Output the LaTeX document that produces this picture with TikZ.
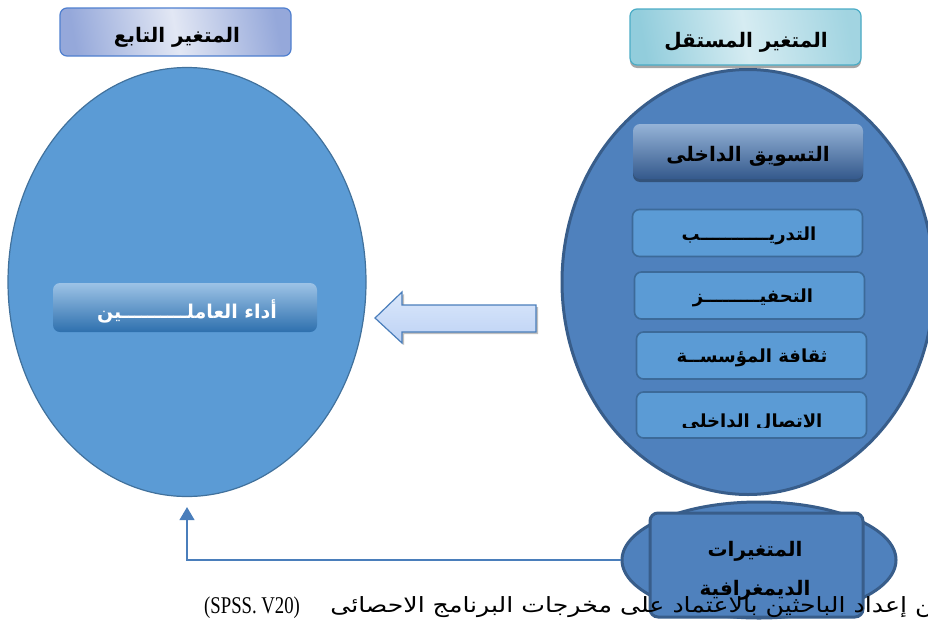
\documentclass[tikz,border=0pt]{standalone}
\usepackage{fontspec}
\setmainfont{Liberation Serif}
\newfontfamily\arabicfont[Script=Arabic]{DejaVu Sans}
\newfontfamily\capfont[Script=Arabic,FakeStretch=1.2]{DejaVu Sans}
\newfontfamily\latcap[FakeStretch=0.78]{Liberation Serif}
\TeXXeTstate=1
\usetikzlibrary{shapes.geometric,shadows,arrows.meta,calc}
\definecolor{ellL}{HTML}{5B9BD5}
\definecolor{ellLb}{HTML}{41719C}
\definecolor{ellR}{HTML}{4F81BD}
\definecolor{ellRb}{HTML}{385D8A}
\definecolor{boxF}{HTML}{5B9BD5}
\definecolor{boxB}{HTML}{3C6A99}
\definecolor{lavA}{HTML}{95A8DA}
\definecolor{lavB}{HTML}{E2E7F4}
\definecolor{lavE}{HTML}{4F7FCF}
\definecolor{tealA}{HTML}{92CDDC}
\definecolor{tealB}{HTML}{D6ECF2}
\definecolor{tealE}{HTML}{4BACC6}
\definecolor{hdrT}{HTML}{95B3D7}
\definecolor{hdrB}{HTML}{34598C}
\definecolor{perT}{HTML}{9DC3E6}
\definecolor{perB}{HTML}{2E70AE}
\definecolor{arrT}{HTML}{DAE7FB}
\definecolor{arrB}{HTML}{BDD2F4}
\definecolor{arrE}{HTML}{4A7EBB}
\tikzset{
  artext/.style={font=\arabicfont\bfseries\fontsize{19}{22}\selectfont, text=black, align=center, inner sep=0pt},
  smalltext/.style={artext, font=\arabicfont\bfseries\fontsize{18}{21}\selectfont},
  titlebox/.style={rounded corners=7pt, line width=1.2pt, inner sep=0pt},
  innerbox/.style={rounded corners=7pt, draw=boxB, fill=boxF, line width=1.6pt, inner sep=0pt,
     minimum width=230pt, minimum height=47pt},
  bigell/.style={ellipse, inner sep=0pt},
  conn/.style={draw=arrE, line width=1.3pt},
  softshadow/.style={drop shadow={shadow xshift=0pt, shadow yshift=-3pt, opacity=0.35, fill=black}},
}
\begin{document}
\begin{tikzpicture}[x=1pt, y=-1pt]
\useasboundingbox (0,0) rectangle (928,624);
% dependent variable ellipse
\node[bigell, fill=ellL, draw=ellLb, line width=1.2pt, minimum width=358pt, minimum height=429pt] (depE) at (187,282) {};
% independent variable ellipse
\node[bigell, fill=ellR, draw=ellRb, line width=3pt, minimum width=372pt, minimum height=425pt] (indE) at (748,282) {};
% titles
\node[titlebox, draw=lavE, left color=lavA, right color=lavA, middle color=lavB, shading angle=100,
      minimum width=231pt, minimum height=48pt] (tdep) at (175.5,32) {};
\node[artext, font=\arabicfont\bfseries\fontsize{20}{23}\selectfont] (tdepT) at (177,37) {\beginR المتغير التابع\endR};
\node[titlebox, draw=tealE, left color=tealA, right color=tealA!85, middle color=tealB, shading angle=100, softshadow,
      minimum width=231pt, minimum height=56pt] (tind) at (745.5,37) {};
\node[artext, font=\arabicfont\bfseries\fontsize{20}{23}\selectfont] (tindT) at (746,42) {\beginR المتغير المستقل\endR};
% header box
\node[rounded corners=7pt, inner sep=0pt, top color=hdrT, bottom color=hdrB, softshadow,
      minimum width=230pt, minimum height=55pt] (hdr) at (748,151.5) {};
\node[artext, font=\arabicfont\bfseries\fontsize{20}{23}\selectfont] (hdrT) at (748,156) {\beginR التسويق الداخلى\endR};
% sub boxes
\node[innerbox] (b1) at (747.5,233) {};
\node[smalltext] (b1t) at (749,236) {\beginR التدريـــــــــــب\endR};
\node[innerbox] (b2) at (749.5,295.5) {};
\node[smalltext] (b2t) at (753,298) {\beginR التحفيـــــــــز\endR};
\node[innerbox] (b3) at (751.5,355.5) {};
\node[smalltext] (b3t) at (752,358) {\beginR ثقافة المؤسســة\endR};
\node[innerbox, minimum height=46pt] (b4) at (751.5,415) {};
\begin{scope}
  \clip (636,392) rectangle (867,427);
  \node[smalltext] (b4t) at (752,422) {\beginR الاتصال الداخلى\endR};
\end{scope}
% performance box
\node[rounded corners=7pt, inner sep=0pt, top color=perT, bottom color=perB,
      minimum width=264pt, minimum height=49pt] (perf) at (185,307.5) {};
\node[artext, text=white] (perfT) at (187,311) {\beginR أداء العاملــــــــــين\endR};
% block arrow
\draw[arrE, line width=1.2pt, top color=arrT, bottom color=arrB, line join=miter,
      drop shadow={shadow xshift=2pt, shadow yshift=-2pt, opacity=0.25, fill=black}]
  (536,305) -- (402,305) -- (402,292) -- (375,318) -- (402,343) -- (402,332) -- (536,332) -- cycle;
% demographic
\node[bigell, fill=ellR, draw=ellRb, line width=3pt, minimum width=274pt, minimum height=116pt] (demE) at (759,560) {};
\node[rounded corners=8pt, fill=ellR, draw=ellRb, line width=3pt, minimum width=213pt, minimum height=104pt, inner sep=0pt] (demB) at (756.5,565) {};
\node[artext, font=\arabicfont\bfseries\fontsize{20}{23}\selectfont] (demT1) at (755,551) {\beginR المتغيرات\endR};
\node[artext, font=\arabicfont\bfseries\fontsize{20}{23}\selectfont] (demT2) at (755,590) {\beginR الديمغرافية\endR};
% connector
\draw[conn, -{Triangle[width=15pt,length=13pt]}, shorten >=10pt] (demE.west) -| (depE.south);
% caption
\node[anchor=base west, inner sep=0pt, font=\latcap\fontsize{24}{27}\selectfont] (capL) at (204,613) {(SPSS. V20)};
\node[anchor=base east, inner sep=0pt, font=\capfont\fontsize{21}{25}\selectfont] (capA) at (948,612) {\beginR من إعداد الباحثين بالاعتماد على مخرجات البرنامج الاحصائى\endR};
\end{tikzpicture}
\end{document}
